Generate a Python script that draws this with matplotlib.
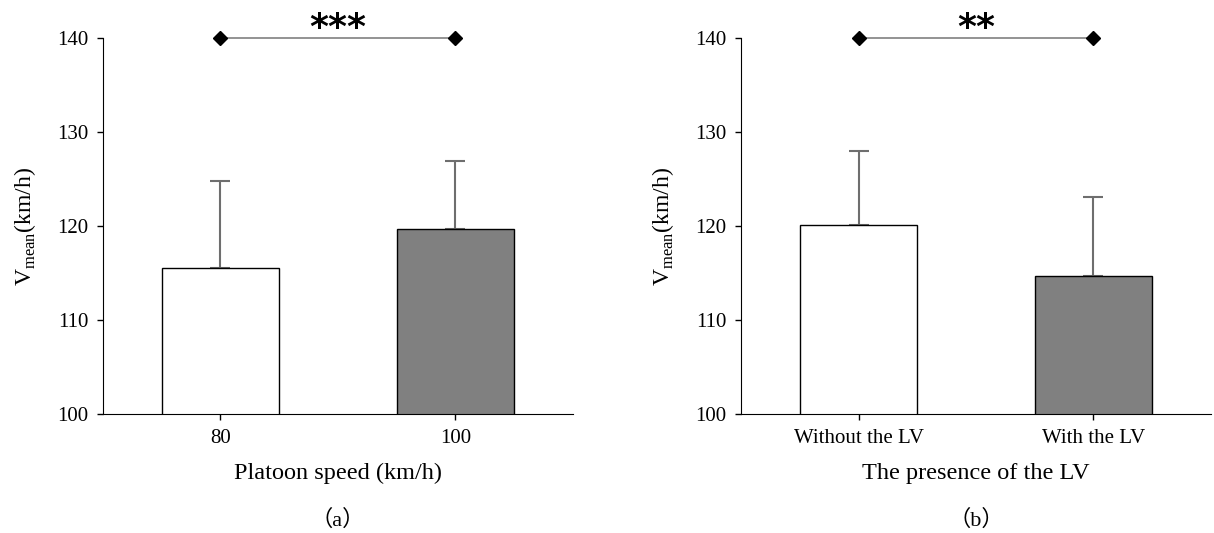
import numpy as np
import matplotlib.pyplot as plt

plt.rcParams['font.family'] = ['Liberation Serif', 'DejaVu Serif']
plt.rcParams['mathtext.fontset'] = 'custom'
plt.rcParams['mathtext.rm'] = 'Liberation Serif'

# Data
speed_labels = ['80', '100']
speed_means = [115.5, 119.7]
speed_sd = [9.3, 7.2]

lv_labels = ['Without the LV', 'With the LV']
lv_means = [120.1, 114.7]
lv_sd = [7.9, 8.4]

bar_colors = ['white', '#808080']
y_ticks = [100, 110, 120, 130, 140]


def bar_panel(ax, labels, means, sd, xlabel, stars, tag):
    x = np.arange(len(labels))
    ax.bar(x, means, width=0.5, color=bar_colors, edgecolor='black', linewidth=1.0, zorder=2)
    ax.errorbar(x, means, yerr=[np.zeros(len(sd)), sd], fmt='none', ecolor='#6e6e6e',
                elinewidth=1.5, capsize=7, capthick=1.5, zorder=1)
    ax.set_xlim(-0.5, 1.5)
    ax.set_ylim(100, 140)
    ax.set_yticks(y_ticks)
    ax.set_xticks(x)
    ax.set_xticklabels(labels)
    ax.spines['top'].set_visible(False)
    ax.spines['right'].set_visible(False)
    ax.tick_params(direction='out', length=4.5, width=1.0, labelsize=15, pad=6)
    ax.set_xlabel(xlabel, fontsize=17.5, labelpad=11)
    ax.set_ylabel(r'V$_{\mathrm{mean}}$(km/h)', fontsize=17, labelpad=14)
    # significance bracket
    ax.plot(x, [140, 140], color='#808080', lw=1.2, clip_on=False, zorder=3)
    ax.plot(x, [140, 140], ls='none', marker='D', color='black', markersize=7.5,
            clip_on=False, zorder=4)
    ax.text(x.mean(), 140.05, stars, ha='center', va='baseline', fontsize=26,
            fontweight='bold', family='DejaVu Sans')
    ax.text(0.5, -0.255, tag, transform=ax.transAxes, ha='center', va='top',
            fontsize=16, family=['Liberation Serif', 'Noto Sans CJK SC'])


fig = plt.figure(figsize=(12.14, 5.33), dpi=100)
ax1 = fig.add_axes([0.0848, 0.2233, 0.3872, 0.7054])
ax2 = fig.add_axes([0.6104, 0.2233, 0.3871, 0.7054])

bar_panel(ax1, speed_labels, speed_means, speed_sd, 'Platoon speed (km/h)', '***', '（a）')
bar_panel(ax2, lv_labels, lv_means, lv_sd, 'The presence of the LV', '**', '（b）')

fig.savefig('out.png', dpi=100)
